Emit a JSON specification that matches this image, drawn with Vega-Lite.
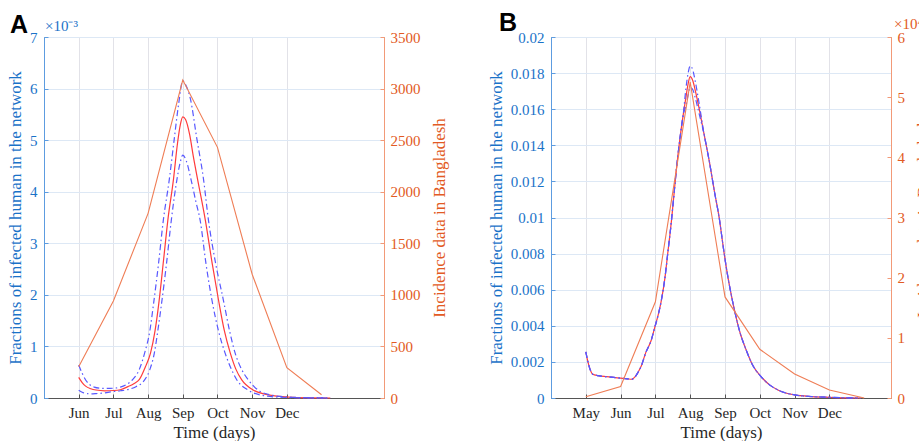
{
  "$schema": "https://vega.github.io/schema/vega-lite/v6.json",
  "background": "white",
  "autosize": {"type": "pad"},
  "padding": {"left": 6, "top": 10, "right": 0, "bottom": 0},
  "spacing": 38,
  "config": {
    "font": "Liberation Serif",
    "view": {"stroke": "#5a5a5a", "strokeWidth": 1},
    "axis": {"labelFont": "Liberation Serif", "labelFontSize": 15, "titleFont": "Liberation Serif", "titleFontSize": 17, "titleFontWeight": "normal", "labelOverlap": false, "tickCount": 30},
    "title": {"font": "Liberation Sans", "fontSize": 25, "fontWeight": "bold", "anchor": "start", "frame": "group", "color": "#000000", "baseline": "alphabetic"}
  },
  "datasets": {
    "A_model": [
      {"m":1.0,"v":0.00064,"s":"outer"},{"m":1.1,"v":0.00048,"s":"outer"},{"m":1.2,"v":0.00035,"s":"outer"},{"m":1.3,"v":0.00027,"s":"outer"},{"m":1.45,"v":0.00021,"s":"outer"},{"m":1.6,"v":0.00019,"s":"outer"},{"m":1.8,"v":0.000185,"s":"outer"},{"m":2.0,"v":0.00019,"s":"outer"},{"m":2.2,"v":0.00021,"s":"outer"},{"m":2.4,"v":0.00027,"s":"outer"},{"m":2.56,"v":0.00036,"s":"outer"},{"m":2.75,"v":0.00056,"s":"outer"},{"m":2.9,"v":0.00087,"s":"outer"},{"m":3.05,"v":0.0013,"s":"outer"},{"m":3.16,"v":0.00184,"s":"outer"},{"m":3.3,"v":0.0026,"s":"outer"},{"m":3.44,"v":0.00345,"s":"outer"},{"m":3.61,"v":0.00423,"s":"outer"},{"m":3.75,"v":0.005,"s":"outer"},{"m":3.88,"v":0.0057,"s":"outer"},{"m":4.0,"v":0.00615,"s":"outer"},{"m":4.1,"v":0.00605,"s":"outer"},{"m":4.22,"v":0.0058,"s":"outer"},{"m":4.4,"v":0.00505,"s":"outer"},{"m":4.6,"v":0.00423,"s":"outer"},{"m":4.74,"v":0.00345,"s":"outer"},{"m":4.95,"v":0.0026,"s":"outer"},{"m":5.17,"v":0.0019,"s":"outer"},{"m":5.35,"v":0.0013,"s":"outer"},{"m":5.51,"v":0.00087,"s":"outer"},{"m":5.7,"v":0.00055,"s":"outer"},{"m":5.89,"v":0.00035,"s":"outer"},{"m":6.18,"v":0.00015,"s":"outer"},{"m":6.6,"v":0.00005,"s":"outer"},{"m":7.0,"v":0.00002,"s":"outer"},{"m":7.5,"v":0.000006,"s":"outer"},{"m":8.0,"v":0.000001,"s":"outer"},{"m":8.25,"v":0,"s":"outer"},
      {"m":1.0,"v":0.0004,"s":"model"},{"m":1.1,"v":0.0003,"s":"model"},{"m":1.2,"v":0.00023,"s":"model"},{"m":1.35,"v":0.00018,"s":"model"},{"m":1.5,"v":0.000155,"s":"model"},{"m":1.75,"v":0.00014,"s":"model"},{"m":2.0,"v":0.000145,"s":"model"},{"m":2.2,"v":0.00016,"s":"model"},{"m":2.42,"v":0.00022,"s":"model"},{"m":2.6,"v":0.00028,"s":"model"},{"m":2.75,"v":0.00036,"s":"model"},{"m":2.92,"v":0.0006,"s":"model"},{"m":3.07,"v":0.00087,"s":"model"},{"m":3.2,"v":0.0013,"s":"model"},{"m":3.31,"v":0.00184,"s":"model"},{"m":3.45,"v":0.0027,"s":"model"},{"m":3.57,"v":0.00345,"s":"model"},{"m":3.73,"v":0.00423,"s":"model"},{"m":3.85,"v":0.00495,"s":"model"},{"m":3.93,"v":0.0053,"s":"model"},{"m":4.0,"v":0.00545,"s":"model"},{"m":4.08,"v":0.0054,"s":"model"},{"m":4.2,"v":0.0051,"s":"model"},{"m":4.3,"v":0.0047,"s":"model"},{"m":4.43,"v":0.00423,"s":"model"},{"m":4.65,"v":0.00345,"s":"model"},{"m":4.85,"v":0.0026,"s":"model"},{"m":5.03,"v":0.0019,"s":"model"},{"m":5.2,"v":0.0013,"s":"model"},{"m":5.37,"v":0.00087,"s":"model"},{"m":5.53,"v":0.00056,"s":"model"},{"m":5.7,"v":0.00035,"s":"model"},{"m":6.04,"v":0.00015,"s":"model"},{"m":6.4,"v":0.00007,"s":"model"},{"m":6.8,"v":0.00003,"s":"model"},{"m":7.2,"v":0.000012,"s":"model"},{"m":7.7,"v":0.000003,"s":"model"},{"m":8.25,"v":0,"s":"model"},
      {"m":1.0,"v":0.00015,"s":"inner"},{"m":1.1,"v":0.00011,"s":"inner"},{"m":1.2,"v":0.00009,"s":"inner"},{"m":1.35,"v":0.00008,"s":"inner"},{"m":1.5,"v":0.000085,"s":"inner"},{"m":1.75,"v":0.0001,"s":"inner"},{"m":2.0,"v":0.000125,"s":"inner"},{"m":2.2,"v":0.00014,"s":"inner"},{"m":2.45,"v":0.00017,"s":"inner"},{"m":2.65,"v":0.00022,"s":"inner"},{"m":2.9,"v":0.00035,"s":"inner"},{"m":3.05,"v":0.00055,"s":"inner"},{"m":3.18,"v":0.00087,"s":"inner"},{"m":3.28,"v":0.0013,"s":"inner"},{"m":3.39,"v":0.00184,"s":"inner"},{"m":3.53,"v":0.0026,"s":"inner"},{"m":3.67,"v":0.00345,"s":"inner"},{"m":3.83,"v":0.00423,"s":"inner"},{"m":3.92,"v":0.00455,"s":"inner"},{"m":4.0,"v":0.00471,"s":"inner"},{"m":4.1,"v":0.0046,"s":"inner"},{"m":4.24,"v":0.00423,"s":"inner"},{"m":4.38,"v":0.0038,"s":"inner"},{"m":4.5,"v":0.00345,"s":"inner"},{"m":4.67,"v":0.0026,"s":"inner"},{"m":4.84,"v":0.0019,"s":"inner"},{"m":5.03,"v":0.0013,"s":"inner"},{"m":5.22,"v":0.00087,"s":"inner"},{"m":5.4,"v":0.00056,"s":"inner"},{"m":5.56,"v":0.00035,"s":"inner"},{"m":5.89,"v":0.00015,"s":"inner"},{"m":6.3,"v":0.00005,"s":"inner"},{"m":6.8,"v":0.000015,"s":"inner"},{"m":7.5,"v":0.000003,"s":"inner"},{"m":8.25,"v":0,"s":"inner"}
    ],
    "A_inc": [
      {"m":1,"r":303},{"m":2,"r":940},{"m":3,"r":1790},{"m":4,"r":3083},{"m":5,"r":2430},{"m":6,"r":1200},{"m":7,"r":294},{"m":8,"r":32}
    ],
    "B_model": [
      {"m":1.0,"v":0.00255,"s":"upper"},{"m":1.05,"v":0.0021,"s":"upper"},{"m":1.12,"v":0.0016,"s":"upper"},{"m":1.2,"v":0.00132,"s":"upper"},{"m":1.35,"v":0.00124,"s":"upper"},{"m":1.6,"v":0.00118,"s":"upper"},{"m":1.8,"v":0.00114,"s":"upper"},{"m":2.0,"v":0.0011,"s":"upper"},{"m":2.2,"v":0.00106,"s":"upper"},{"m":2.32,"v":0.00104,"s":"upper"},{"m":2.42,"v":0.00118,"s":"upper"},{"m":2.5,"v":0.00142,"s":"upper"},{"m":2.6,"v":0.0018,"s":"upper"},{"m":2.72,"v":0.0025,"s":"upper"},{"m":2.88,"v":0.0032,"s":"upper"},{"m":2.98,"v":0.0039,"s":"upper"},{"m":3.08,"v":0.0046,"s":"upper"},{"m":3.17,"v":0.0054,"s":"upper"},{"m":3.27,"v":0.0066,"s":"upper"},{"m":3.36,"v":0.0081,"s":"upper"},{"m":3.46,"v":0.0098,"s":"upper"},{"m":3.53,"v":0.0112,"s":"upper"},{"m":3.6,"v":0.0126,"s":"upper"},{"m":3.7,"v":0.0143,"s":"upper"},{"m":3.8,"v":0.0157,"s":"upper"},
      {"m":3.88,"v":0.0172,"s":"upper"},{"m":3.94,"v":0.018,"s":"upper"},{"m":4.0,"v":0.0184,"s":"upper"},{"m":4.07,"v":0.0182,"s":"upper"},{"m":4.15,"v":0.0175,"s":"upper"},{"m":4.25,"v":0.0164,"s":"upper"},
      {"m":4.4,"v":0.0146,"s":"upper"},{"m":4.55,"v":0.0131,"s":"upper"},{"m":4.7,"v":0.0114,"s":"upper"},{"m":4.84,"v":0.0099,"s":"upper"},{"m":4.94,"v":0.0085,"s":"upper"},{"m":5.04,"v":0.0072,"s":"upper"},{"m":5.15,"v":0.006,"s":"upper"},{"m":5.28,"v":0.0048,"s":"upper"},{"m":5.42,"v":0.0037,"s":"upper"},{"m":5.6,"v":0.0027,"s":"upper"},{"m":5.8,"v":0.0018,"s":"upper"},{"m":6.05,"v":0.00115,"s":"upper"},{"m":6.3,"v":0.0007,"s":"upper"},{"m":6.55,"v":0.00042,"s":"upper"},{"m":7.0,"v":0.00017,"s":"upper"},{"m":7.5,"v":0.00008,"s":"upper"},{"m":8.0,"v":0.00004,"s":"upper"},{"m":8.5,"v":0.00001,"s":"upper"},{"m":8.9,"v":0,"s":"upper"},
      {"m":1.0,"v":0.00255,"s":"model"},{"m":1.05,"v":0.0021,"s":"model"},{"m":1.12,"v":0.0016,"s":"model"},{"m":1.2,"v":0.00132,"s":"model"},{"m":1.35,"v":0.00124,"s":"model"},{"m":1.6,"v":0.00118,"s":"model"},{"m":1.8,"v":0.00114,"s":"model"},{"m":2.0,"v":0.0011,"s":"model"},{"m":2.2,"v":0.00106,"s":"model"},{"m":2.32,"v":0.00104,"s":"model"},{"m":2.42,"v":0.00118,"s":"model"},{"m":2.5,"v":0.00142,"s":"model"},{"m":2.6,"v":0.0018,"s":"model"},{"m":2.72,"v":0.0025,"s":"model"},{"m":2.88,"v":0.0032,"s":"model"},{"m":2.98,"v":0.0039,"s":"model"},{"m":3.08,"v":0.0046,"s":"model"},{"m":3.17,"v":0.0054,"s":"model"},{"m":3.27,"v":0.0066,"s":"model"},{"m":3.36,"v":0.0081,"s":"model"},{"m":3.46,"v":0.0098,"s":"model"},{"m":3.53,"v":0.0112,"s":"model"},{"m":3.6,"v":0.0126,"s":"model"},{"m":3.7,"v":0.0143,"s":"model"},{"m":3.8,"v":0.0157,"s":"model"},
      {"m":3.88,"v":0.0167,"s":"model"},{"m":3.94,"v":0.0174,"s":"model"},{"m":4.0,"v":0.0178,"s":"model"},{"m":4.07,"v":0.0176,"s":"model"},{"m":4.15,"v":0.017,"s":"model"},{"m":4.25,"v":0.0161,"s":"model"},
      {"m":4.4,"v":0.0146,"s":"model"},{"m":4.55,"v":0.0131,"s":"model"},{"m":4.7,"v":0.0114,"s":"model"},{"m":4.84,"v":0.0099,"s":"model"},{"m":4.94,"v":0.0085,"s":"model"},{"m":5.04,"v":0.0072,"s":"model"},{"m":5.15,"v":0.006,"s":"model"},{"m":5.28,"v":0.0048,"s":"model"},{"m":5.42,"v":0.0037,"s":"model"},{"m":5.6,"v":0.0027,"s":"model"},{"m":5.8,"v":0.0018,"s":"model"},{"m":6.05,"v":0.00115,"s":"model"},{"m":6.3,"v":0.0007,"s":"model"},{"m":6.55,"v":0.00042,"s":"model"},{"m":7.0,"v":0.00017,"s":"model"},{"m":7.5,"v":0.00008,"s":"model"},{"m":8.0,"v":0.00004,"s":"model"},{"m":8.5,"v":0.00001,"s":"model"},{"m":8.9,"v":0,"s":"model"},
      {"m":1.0,"v":0.00255,"s":"lower"},{"m":1.05,"v":0.0021,"s":"lower"},{"m":1.12,"v":0.0016,"s":"lower"},{"m":1.2,"v":0.00132,"s":"lower"},{"m":1.35,"v":0.00124,"s":"lower"},{"m":1.6,"v":0.00118,"s":"lower"},{"m":1.8,"v":0.00114,"s":"lower"},{"m":2.0,"v":0.0011,"s":"lower"},{"m":2.2,"v":0.00106,"s":"lower"},{"m":2.32,"v":0.00104,"s":"lower"},{"m":2.42,"v":0.00118,"s":"lower"},{"m":2.5,"v":0.00142,"s":"lower"},{"m":2.6,"v":0.0018,"s":"lower"},{"m":2.72,"v":0.0025,"s":"lower"},{"m":2.88,"v":0.0032,"s":"lower"},{"m":2.98,"v":0.0039,"s":"lower"},{"m":3.08,"v":0.0046,"s":"lower"},{"m":3.17,"v":0.0054,"s":"lower"},{"m":3.27,"v":0.0066,"s":"lower"},{"m":3.36,"v":0.0081,"s":"lower"},{"m":3.46,"v":0.0098,"s":"lower"},{"m":3.53,"v":0.0112,"s":"lower"},{"m":3.6,"v":0.0126,"s":"lower"},{"m":3.7,"v":0.0143,"s":"lower"},{"m":3.8,"v":0.0157,"s":"lower"},
      {"m":3.88,"v":0.0162,"s":"lower"},{"m":3.94,"v":0.0168,"s":"lower"},{"m":4.0,"v":0.0172,"s":"lower"},{"m":4.07,"v":0.0171,"s":"lower"},{"m":4.15,"v":0.0166,"s":"lower"},{"m":4.25,"v":0.0158,"s":"lower"},
      {"m":4.4,"v":0.0146,"s":"lower"},{"m":4.55,"v":0.0131,"s":"lower"},{"m":4.7,"v":0.0114,"s":"lower"},{"m":4.84,"v":0.0099,"s":"lower"},{"m":4.94,"v":0.0085,"s":"lower"},{"m":5.04,"v":0.0072,"s":"lower"},{"m":5.15,"v":0.006,"s":"lower"},{"m":5.28,"v":0.0048,"s":"lower"},{"m":5.42,"v":0.0037,"s":"lower"},{"m":5.6,"v":0.0027,"s":"lower"},{"m":5.8,"v":0.0018,"s":"lower"},{"m":6.05,"v":0.00115,"s":"lower"},{"m":6.3,"v":0.0007,"s":"lower"},{"m":6.55,"v":0.00042,"s":"lower"},{"m":7.0,"v":0.00017,"s":"lower"},{"m":7.5,"v":0.00008,"s":"lower"},{"m":8.0,"v":0.00004,"s":"lower"},{"m":8.5,"v":0.00001,"s":"lower"},{"m":8.9,"v":0,"s":"lower"}
    ],
    "B_inc": [
      {"m":1,"r":200},{"m":2,"r":1900},{"m":3,"r":16000},{"m":4,"r":52500},{"m":5,"r":16800},{"m":6,"r":8100},{"m":7,"r":4000},{"m":8,"r":1330},{"m":9,"r":0}
    ]
  },
  "hconcat": [
    {
      "title": {"text": "A", "dx": -34, "offset": -19},
      "width": 340,
      "height": 361,
      "resolve": {"scale": {"y": "independent"}},
      "layer": [
        {
          "layer": [
            {
              "data": {"name": "A_model"},
              "transform": [{"filter": "datum.s == 'model'"}],
              "mark": {"type": "line", "color": "#ff3b3b", "strokeWidth": 1.2, "interpolate": "monotone"},
              "encoding": {
                "x": {"field": "m", "type": "quantitative", "scale": {"domain": [0, 9.8], "nice": false, "zero": false},
                  "axis": {"orient": "bottom", "values": [1, 2, 3, 4, 5, 6, 7], "tickCount": 30, "labelExpr": "['May','Jun','Jul','Aug','Sep','Oct','Nov','Dec'][datum.value]", "title": "Time (days)", "grid": true, "gridColor": "#e2e2e8", "domainColor": "#555555", "tickColor": "#555555", "tickSize": -4, "labelPadding": 11, "labelColor": "#262626", "titleColor": "#262626", "titlePadding": 4, "labelOverlap": false}},
                "y": {"field": "v", "type": "quantitative", "scale": {"domain": [0, 0.007], "nice": false},
                  "axis": {"orient": "left", "values": [0, 0.001, 0.002, 0.003, 0.004, 0.005, 0.006, 0.007], "tickCount": 30, "labelExpr": "round(datum.value*1000)", "title": "Fractions of infected human in the network", "labelColor": "#1a72c8", "titleColor": "#1a72c8", "domainColor": "#5d9ce0", "tickColor": "#5d9ce0", "tickSize": -4, "labelPadding": 11, "grid": true, "gridColor": "#dde8f5", "titlePadding": 5, "labelOverlap": false}}
              }
            },
            {
              "data": {"name": "A_model"},
              "transform": [{"filter": "datum.s != 'model'"}],
              "mark": {"type": "line", "color": "#5858ff", "strokeWidth": 1.2, "strokeDash": [6, 3, 1.5, 3], "interpolate": "monotone"},
              "encoding": {
                "x": {"field": "m", "type": "quantitative"},
                "y": {"field": "v", "type": "quantitative"},
                "detail": {"field": "s"}
              }
            },
            {
              "data": {"values": [{}]},
              "mark": {"type": "text", "align": "left", "baseline": "bottom", "dx": 1, "dy": -3, "font": "Liberation Serif", "fontSize": 15, "color": "#1a72c8"},
              "encoding": {"x": {"datum": 0}, "y": {"datum": 0.007}, "text": {"value": "×10⁻³"}}
            }
          ]
        },
        {
          "data": {"name": "A_inc"},
          "mark": {"type": "line", "color": "#ef7d55", "strokeWidth": 1.1},
          "encoding": {
            "x": {"field": "m", "type": "quantitative"},
            "y": {"field": "r", "type": "quantitative", "scale": {"domain": [0, 3500], "nice": false},
              "axis": {"orient": "right", "values": [0, 500, 1000, 1500, 2000, 2500, 3000, 3500], "tickCount": 30, "title": "Incidence data in Bangladesh", "titleAngle": -90, "titleBaseline": "top", "labelColor": "#e25a23", "titleColor": "#e25a23", "domainColor": "#f29a78", "tickColor": "#f29a78", "tickSize": -4, "labelPadding": 10, "grid": false, "titlePadding": 11, "format": "d", "labelOverlap": false}}
          }
        }
      ]
    },
    {
      "title": {"text": "B", "dx": -52, "offset": -19},
      "width": 340,
      "height": 361,
      "resolve": {"scale": {"y": "independent"}},
      "layer": [
        {
          "layer": [
            {
              "data": {"name": "B_model"},
              "transform": [{"filter": "datum.s == 'model'"}],
              "mark": {"type": "line", "color": "#ff3b3b", "strokeWidth": 1.2, "interpolate": "monotone"},
              "encoding": {
                "x": {"field": "m", "type": "quantitative", "scale": {"domain": [0, 9.77], "nice": false, "zero": false},
                  "axis": {"orient": "bottom", "values": [1, 2, 3, 4, 5, 6, 7, 8], "tickCount": 30, "labelExpr": "['Apr','May','Jun','Jul','Aug','Sep','Oct','Nov','Dec'][datum.value]", "title": "Time (days)", "grid": true, "gridColor": "#e2e2e8", "domainColor": "#555555", "tickColor": "#555555", "tickSize": -4, "labelPadding": 11, "labelColor": "#262626", "titleColor": "#262626", "titlePadding": 4, "labelOverlap": false}},
                "y": {"field": "v", "type": "quantitative", "scale": {"domain": [0, 0.02], "nice": false},
                  "axis": {"orient": "left", "values": [0, 0.002, 0.004, 0.006, 0.008, 0.01, 0.012, 0.014, 0.016, 0.018, 0.02], "tickCount": 30, "labelExpr": "toString(round(datum.value*1000)/1000)", "title": "Fractions of infected human in the network", "labelColor": "#1a72c8", "titleColor": "#1a72c8", "domainColor": "#5d9ce0", "tickColor": "#5d9ce0", "tickSize": -4, "labelPadding": 11, "grid": true, "gridColor": "#dde8f5", "titlePadding": 5, "labelOverlap": false}}
              }
            },
            {
              "data": {"name": "B_model"},
              "transform": [{"filter": "datum.s != 'model'"}],
              "mark": {"type": "line", "color": "#5858ff", "strokeWidth": 1.2, "strokeDash": [6, 3, 1.5, 3], "interpolate": "monotone"},
              "encoding": {
                "x": {"field": "m", "type": "quantitative"},
                "y": {"field": "v", "type": "quantitative"},
                "detail": {"field": "s"}
              }
            }
          ]
        },
        {
          "layer": [
            {
              "data": {"name": "B_inc"},
              "mark": {"type": "line", "color": "#ef7d55", "strokeWidth": 1.1},
              "encoding": {
                "x": {"field": "m", "type": "quantitative"},
                "y": {"field": "r", "type": "quantitative", "scale": {"domain": [0, 60000], "nice": false},
                  "axis": {"orient": "right", "values": [0, 10000, 20000, 30000, 40000, 50000, 60000], "tickCount": 30, "labelExpr": "round(datum.value/10000)", "title": "Incidence data in Bangladesh", "titleAngle": -90, "titleBaseline": "top", "labelColor": "#e25a23", "titleColor": "#e25a23", "domainColor": "#f29a78", "tickColor": "#f29a78", "tickSize": -4, "labelPadding": 10, "grid": false, "titlePadding": 11, "labelOverlap": false}}
              }
            },
            {
              "data": {"values": [{}]},
              "mark": {"type": "text", "align": "left", "baseline": "bottom", "dx": 3, "dy": -5, "font": "Liberation Serif", "fontSize": 15, "color": "#e25a23"},
              "encoding": {"x": {"datum": 9.77}, "y": {"datum": 60000}, "text": {"value": "×10⁴"}}
            }
          ]
        }
      ]
    }
  ]
}
